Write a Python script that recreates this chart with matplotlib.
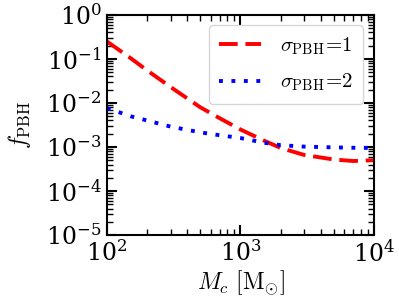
import matplotlib
matplotlib.use('Agg')
import matplotlib.pyplot as plt
from matplotlib.ticker import LogLocator, NullFormatter

plt.rcParams['mathtext.fontset'] = 'cm'
plt.rcParams['font.family'] = 'serif'
plt.rcParams['font.serif'] = ['DejaVu Serif']

# data
mc = [100, 150, 200, 300, 500, 700, 1000, 1500, 2000, 3000, 5000, 7000, 10000]
f_sigma1 = [0.25, 0.105, 0.055, 0.023, 8e-3, 4.5e-3, 2.5e-3, 1.4e-3, 9.5e-4, 6.6e-4, 5.2e-4, 4.8e-4, 5.0e-4]
f_sigma2 = [7.7e-3, 5.0e-3, 4.0e-3, 2.9e-3, 2.15e-3, 1.85e-3, 1.6e-3, 1.25e-3, 1.1e-3, 1.02e-3, 9.8e-4, 9.6e-4, 9.5e-4]
labels = [r'$\sigma_{\rm PBH}\!=\!1$', r'$\sigma_{\rm PBH}\!=\!2$']

fig = plt.figure(figsize=(3.99, 2.99), dpi=100)
ax = fig.add_axes([0.268, 0.214, 0.669, 0.736])

ax.plot(mc, f_sigma1, color='red', ls=(0, (4.8, 2.0)), lw=2.8, label=labels[0])
ax.plot(mc, f_sigma2, color='blue', ls=(0, (1, 2.2)), lw=2.8, label=labels[1])

ax.set_xscale('log')
ax.set_yscale('log')
ax.set_xlim(1e2, 1e4)
ax.set_ylim(1e-5, 1e0)

# label every decade, minor ticks in between
for axis in (ax.xaxis, ax.yaxis):
    axis.set_major_locator(LogLocator(base=10, numticks=12))
    axis.set_minor_locator(LogLocator(base=10, subs=range(2, 10), numticks=12))
    axis.set_minor_formatter(NullFormatter())

ax.set_xlabel(r'$M_c\ [\mathrm{M}_{\odot}]$', fontsize=17, labelpad=1)
ax.set_ylabel(r'$f_{\rm PBH}$', fontsize=17, labelpad=9)

ax.tick_params(which='both', direction='in', top=True, right=True, labelsize=17)
ax.tick_params(which='major', length=7, width=1.5, pad=4)
ax.tick_params(which='minor', length=4, width=1.0)
for s in ax.spines.values():
    s.set_linewidth(1.5)

ax.legend(loc='upper right', fontsize=15, handlelength=2.0, borderpad=0.5,
          labelspacing=0.7, handletextpad=0.9)

fig.savefig('out.png', dpi=100)
